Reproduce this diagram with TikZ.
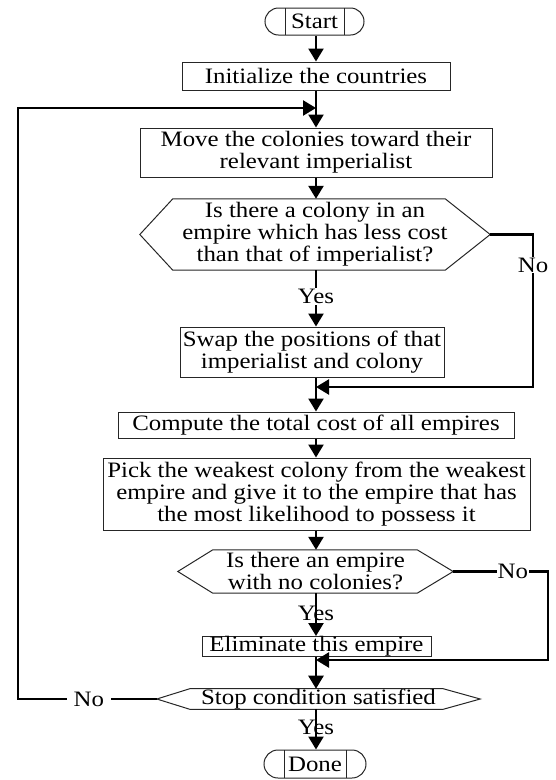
\documentclass[tikz,border=0pt]{standalone}
\usepackage{fontspec}
\setmainfont{Liberation Serif}[FakeStretch=1.13]
\usetikzlibrary{arrows.meta,shapes.misc}
\newcommand\hexof[3]{\draw[boxline] (#1.west) -- ([xshift=#2pt]#1.north west) -- ([xshift=-#3pt]#1.north east) -- (#1.east) -- ([xshift=-#3pt]#1.south east) -- ([xshift=#2pt]#1.south west) -- cycle;}
\begin{document}
\begin{tikzpicture}[x=1pt,y=-1pt,
  every node/.style={font=\fontsize{22}{22}\selectfont, inner sep=0pt, align=center},
  boxline/.style={draw=black!85, line width=1pt},
  procbox/.style={boxline, rectangle},
  termbox/.style={boxline, rounded rectangle, minimum height=27pt,
    path picture={
      \draw[boxline] ([xshift=20pt]path picture bounding box.south west) -- ([xshift=20pt]path picture bounding box.north west);
      \draw[boxline] ([xshift=-20pt]path picture bounding box.south east) -- ([xshift=-20pt]path picture bounding box.north east);}},
  hexnode/.style={rectangle},
  conn/.style={line width=2.4pt, line join=miter},
  arr/.style={conn, -{Triangle[width=15pt,length=13pt]}},
  lab/.style={fill=white, inner xsep=3pt, inner ysep=1pt}
]
\useasboundingbox (0,0) rectangle (556,780);

% nodes
\node[termbox, minimum width=99pt] (start) at (314.5,21.5) {Start};
\node[procbox, minimum width=268pt, minimum height=28pt] (init) at (316,76) {Initialize the countries};
\node[procbox, minimum width=352pt, minimum height=49pt] (move) at (316,152.5) {Move the colonies toward their\\relevant imperialist};
\node[hexnode, minimum width=350pt, minimum height=71pt] (q1) at (315,234.5) {Is there a colony in an\\empire which has less cost\\than that of imperialist?};
\hexof{q1}{33}{45}
\node[procbox, minimum width=264pt, minimum height=50pt] (swap) at (312,352) {Swap the positions of that\\imperialist and colony};
\node[procbox, minimum width=396pt, minimum height=26pt] (comp) at (316,425) {Compute the total cost of all empires};
\node[procbox, minimum width=427pt, minimum height=72pt] (pick) at (316.5,494) {Pick the weakest colony from the weakest\\empire and give it to the empire that has\\the most likelihood to possess it};
\node[hexnode, minimum width=275pt, minimum height=43pt] (q2) at (315.5,571.5) {Is there an empire\\with no colonies?};
\hexof{q2}{35}{36}
\node[procbox, minimum width=229pt, minimum height=19pt] (elim) at (316.5,646.5) {Eliminate this empire};
\node[hexnode, minimum width=323pt, minimum height=20pt] (stop) at (318.5,699) {Stop condition satisfied};
\hexof{stop}{33}{37}
\node[termbox, minimum width=102pt, minimum height=28pt] (done) at (315,764) {Done};

% junction coordinates
\coordinate (j1) at (316,108);
\coordinate (j2) at (316,387);
\coordinate (j3) at (316,660);
\coordinate (r1) at (533,234.5);
\coordinate (r1b) at (533,387);
\coordinate (r2) at (548,571.5);
\coordinate (r2b) at (548,660);
\coordinate (l1) at (18,699);
\coordinate (l1b) at (18,108);

% connectors
\draw[arr] (start.south -| j1) -- (init.north -| j1);
\draw[arr] (init.south -| j1) -- (move.north -| j1);
\draw[arr] (move.south -| j1) -- (q1.north -| j1);
\draw[arr] (q1.south -| j1) -- node[lab, pos=0.47] (y1) {Yes} (swap.north -| j1);
\draw[arr] (q1.east) -- (r1) -- node[lab, pos=0.2] (n1) {No} (r1b) -- (j2);
\draw[arr] (swap.south -| j1) -- (comp.north -| j1);
\draw[arr] (comp.south -| j1) -- (pick.north -| j1);
\draw[arr] (pick.south -| j1) -- (q2.north -| j1);
\draw[arr] (q2.south -| j1) -- (elim.north -| j1);
\node (y2) at (316,613) {Yes};
\draw[arr] (q2.east) -- node[lab, inner xsep=1pt, pos=0.63] (n2) {No} (r2) -- (r2b) -- (j3);
\draw[arr] (elim.south -| j1) -- (stop.north -| j1);
\draw[arr] (stop.south -| j1) -- (done.north -| j1);
\node (y3) at (316,727) {Yes};
\draw[arr] (stop.west) -- node[lab, inner xsep=7pt, pos=0.49] (n3) {No} (l1) -- (l1b) -- (j1);
\end{tikzpicture}
\end{document}
